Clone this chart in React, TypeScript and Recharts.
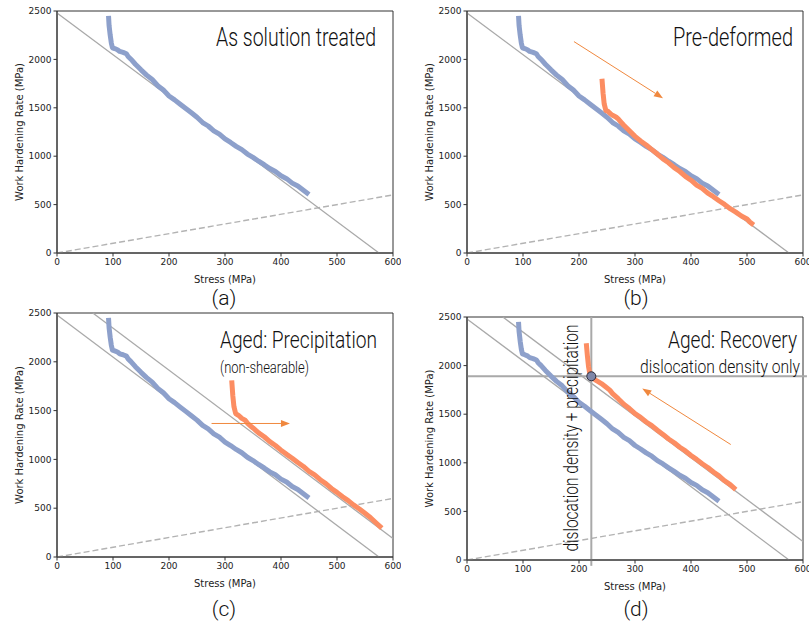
import React from "react";
import {
  LineChart,
  Line,
  XAxis,
  YAxis,
  ReferenceLine,
  ReferenceArea,
  ReferenceDot,
} from "recharts";

// as-solution-treated curve (stress MPa, work hardening rate MPa)
const solutionTreated: [number, number][] = [
  [92, 2450], [93, 2350], [95, 2250], [97, 2170], [99, 2120], [103, 2112], [108, 2100],
  [112, 2082], [118, 2072], [124, 2058], [127, 2030], [132, 2002], [140, 1950], [150, 1892],
  [160, 1838], [170, 1792], [180, 1728], [190, 1683], [200, 1622], [210, 1582], [220, 1536],
  [230, 1492], [240, 1448], [250, 1402], [260, 1348], [270, 1312], [280, 1262], [290, 1228],
  [300, 1178], [310, 1142], [320, 1102], [330, 1068], [340, 1022], [350, 988], [360, 948],
  [370, 912], [380, 872], [390, 842], [400, 798], [410, 768], [420, 722], [430, 692],
  [440, 648], [450, 605],
];

const preDeformed: [number, number][] = [
  [241, 1800], [243, 1650], [245, 1540], [248, 1470], [252, 1462], [256, 1440], [260, 1422],
  [266, 1405], [270, 1385], [275, 1352], [280, 1320], [290, 1262], [300, 1205], [310, 1158],
  [320, 1116], [330, 1068], [340, 1022], [350, 972], [360, 932], [370, 882], [380, 842],
  [390, 792], [400, 752], [410, 702], [420, 668], [430, 618], [440, 582], [450, 540],
  [460, 502], [470, 458], [480, 422], [490, 382], [500, 352], [505, 320], [512, 290],
];

const agedPrecipitation: [number, number][] = [
  [312, 1810], [314, 1650], [316, 1540], [319, 1470], [324, 1452], [330, 1420], [336, 1402],
  [340, 1372], [345, 1345], [350, 1322], [360, 1272], [370, 1232], [380, 1182], [390, 1142],
  [400, 1095], [410, 1052], [420, 1012], [430, 968], [440, 928], [450, 878], [460, 842],
  [470, 792], [480, 752], [490, 702], [500, 662], [510, 618], [520, 578], [530, 532],
  [540, 492], [550, 448], [560, 402], [570, 348], [580, 295],
];

const agedRecovery: [number, number][] = [
  [213, 2230], [215, 2100], [217, 1990], [219, 1925], [222, 1890], [226, 1866], [232, 1842],
  [240, 1815], [248, 1780], [255, 1748], [260, 1712], [270, 1660], [280, 1602], [290, 1558],
  [300, 1505], [310, 1468], [320, 1420], [330, 1382], [340, 1335], [350, 1292], [360, 1245],
  [370, 1206], [380, 1160], [390, 1122], [400, 1075], [410, 1035], [420, 990], [430, 952],
  [440, 905], [450, 865], [460, 815], [470, 775], [480, 725],
];

const xTicks = [0, 100, 200, 300, 400, 500, 600];
const yTicks = [0, 500, 1000, 1500, 2000, 2500];

// fitted lines: [x1, y1, x2, y2]
const fitBase = [0, 2480, 575, 0];
const fitShifted = [64, 2500, 600, 190];
const dashedRef = [0, 0, 600, 600];

// arrows: [fromX, fromY, toX, toY]
const arrowB = [191, 2184, 350, 1599];
const arrowC = [276, 1368, 416, 1368];
const arrowD = [471, 1188, 313, 1764];

const crossStress = 222;
const crossRate = 1890;

const BLUE = "#8da0cb";
const ORANGE = "#fc8d62";
const ARROW = "#f0883e";
const GREY = "#a9a9a9";
const AXIS = "#333";
const NARROW = "Roboto, 'Liberation Sans Narrow', sans-serif";

const toPts = (arr: [number, number][]) => arr.map(([x, y]) => ({ x, y }));

function ArrowShape(props: any) {
  const { x1, y1, x2, y2 } = props;
  const ang = Math.atan2(y2 - y1, x2 - x1);
  const len = 9;
  const half = 3.5;
  const bx = x2 - len * Math.cos(ang);
  const by = y2 - len * Math.sin(ang);
  const px = -Math.sin(ang) * half;
  const py = Math.cos(ang) * half;
  return (
    <g>
      <line x1={x1} y1={y1} x2={bx} y2={by} stroke={ARROW} strokeWidth={1} />
      <polygon points={`${x2},${y2} ${bx + px},${by + py} ${bx - px},${by - py}`} fill={ARROW} />
    </g>
  );
}

function seg(s: number[]) {
  return [
    { x: s[0], y: s[1] },
    { x: s[2], y: s[3] },
  ];
}

type PanelProps = {
  left: number;
  top: number;
  plotHeight: number;
  series: [number, number][][];
  shifted?: boolean;
  arrow?: number[];
  cross?: boolean;
};

function Panel({ left, top, plotHeight, series, shifted, arrow, cross }: PanelProps) {
  const height = 11 + plotHeight + 40;
  return (
    <div style={{ position: "absolute", left, top }}>
      <LineChart width={401} height={height} margin={{ top: 11, right: 8, bottom: 0, left: 0 }}>
        <XAxis
          type="number"
          dataKey="x"
          domain={[0, 600]}
          ticks={xTicks}
          allowDataOverflow
          height={40}
          tickSize={3.5}
          stroke={AXIS}
          tick={{ fontSize: 9, fill: "#222", fontFamily: "DejaVu Sans" }}
          label={{
            value: "Stress (MPa)",
            position: "insideBottom",
            offset: 10,
            style: { fontSize: 10, fill: "#222", fontFamily: "DejaVu Sans" },
          }}
        />
        <YAxis
          type="number"
          dataKey="y"
          domain={[0, 2500]}
          ticks={yTicks}
          allowDataOverflow
          width={57}
          tickSize={3.5}
          stroke={AXIS}
          tick={{ fontSize: 9, fill: "#222", fontFamily: "DejaVu Sans" }}
          label={{
            value: "Work Hardening Rate (MPa)",
            angle: -90,
            position: "insideLeft",
            offset: 19,
            style: { fontSize: 10, fill: "#222", fontFamily: "DejaVu Sans", textAnchor: "middle" },
          }}
        />
        <ReferenceArea x1={0} x2={600} y1={0} y2={2500} fill="none" stroke={AXIS} strokeWidth={1} />
        <ReferenceLine segment={seg(dashedRef)} stroke="#b3b3b3" strokeWidth={1.4} strokeDasharray="6 3" />
        <ReferenceLine segment={seg(fitBase)} stroke={GREY} strokeWidth={1.3} />
        {shifted && <ReferenceLine segment={seg(fitShifted)} stroke={GREY} strokeWidth={1.3} />}
        {cross && (
          <ReferenceLine
            segment={[{ x: crossStress, y: 2500 }, { x: crossStress, y: -60 }]}
            ifOverflow="visible"
            stroke={GREY}
            strokeWidth={2}
          />
        )}
        {cross && (
          <ReferenceLine
            segment={[{ x: 0, y: crossRate }, { x: 607, y: crossRate }]}
            ifOverflow="visible"
            stroke={GREY}
            strokeWidth={2}
          />
        )}
        {series.map((s, i) => (
          <Line
            key={i}
            data={toPts(s)}
            dataKey="y"
            type="linear"
            stroke={i === 0 ? BLUE : ORANGE}
            strokeWidth={5}
            strokeLinejoin="round"
            dot={false}
            isAnimationActive={false}
          />
        ))}
        {arrow && <ReferenceLine segment={seg(arrow)} shape={ArrowShape} />}
        {cross && (
          <ReferenceDot x={crossStress} y={crossRate} r={4.5} fill="#7f87a8" stroke="#2b2b3a" strokeWidth={1} />
        )}
      </LineChart>
    </div>
  );
}

export default function App() {
  const t = { fontFamily: NARROW, fontWeight: 300, fill: "#111" } as const;
  return (
    <div style={{ position: "absolute", left: 0, top: 0, width: 809, height: 626, background: "#fff" }}>
      <Panel left={0} top={0} plotHeight={242} series={[solutionTreated]} />
      <Panel left={410} top={0} plotHeight={242} series={[solutionTreated, preDeformed]} arrow={arrowB} />
      <Panel left={0} top={302} plotHeight={244} series={[solutionTreated, agedPrecipitation]} shifted arrow={arrowC} />
      <Panel left={410} top={306} plotHeight={243} series={[solutionTreated, agedRecovery]} shifted arrow={arrowD} cross />
      <svg width={809} height={626} style={{ position: "absolute", left: 0, top: 0, pointerEvents: "none" }}>
        <text {...t} x={376} y={46} fontSize={25} textAnchor="end" textLength={160} lengthAdjust="spacingAndGlyphs">
          As solution treated
        </text>
        <text {...t} x={793} y={46} fontSize={25} textAnchor="end" textLength={120} lengthAdjust="spacingAndGlyphs">
          Pre-deformed
        </text>
        <text {...t} x={220} y={348} fontSize={24} textLength={157} lengthAdjust="spacingAndGlyphs">
          Aged: Precipitation
        </text>
        <text {...t} x={220} y={373} fontSize={17} textLength={89} lengthAdjust="spacingAndGlyphs">
          (non-shearable)
        </text>
        <text {...t} x={797} y={348} fontSize={24} textAnchor="end" textLength={129} lengthAdjust="spacingAndGlyphs">
          Aged: Recovery
        </text>
        <text {...t} x={800} y={373} fontSize={19} textAnchor="end" textLength={160} lengthAdjust="spacingAndGlyphs">
          dislocation density only
        </text>
        <text
          {...t}
          fontSize={20}
          textAnchor="middle"
          transform="translate(578,438) rotate(-90)"
          textLength={227}
          lengthAdjust="spacingAndGlyphs"
        >
          dislocation density + precipitation
        </text>
        <text {...t} x={224} y={305} fontSize={21} textAnchor="middle">(a)</text>
        <text {...t} x={636} y={305} fontSize={21} textAnchor="middle">(b)</text>
        <text {...t} x={224} y={616} fontSize={21} textAnchor="middle">(c)</text>
        <text {...t} x={636} y={616} fontSize={21} textAnchor="middle">(d)</text>
      </svg>
    </div>
  );
}
